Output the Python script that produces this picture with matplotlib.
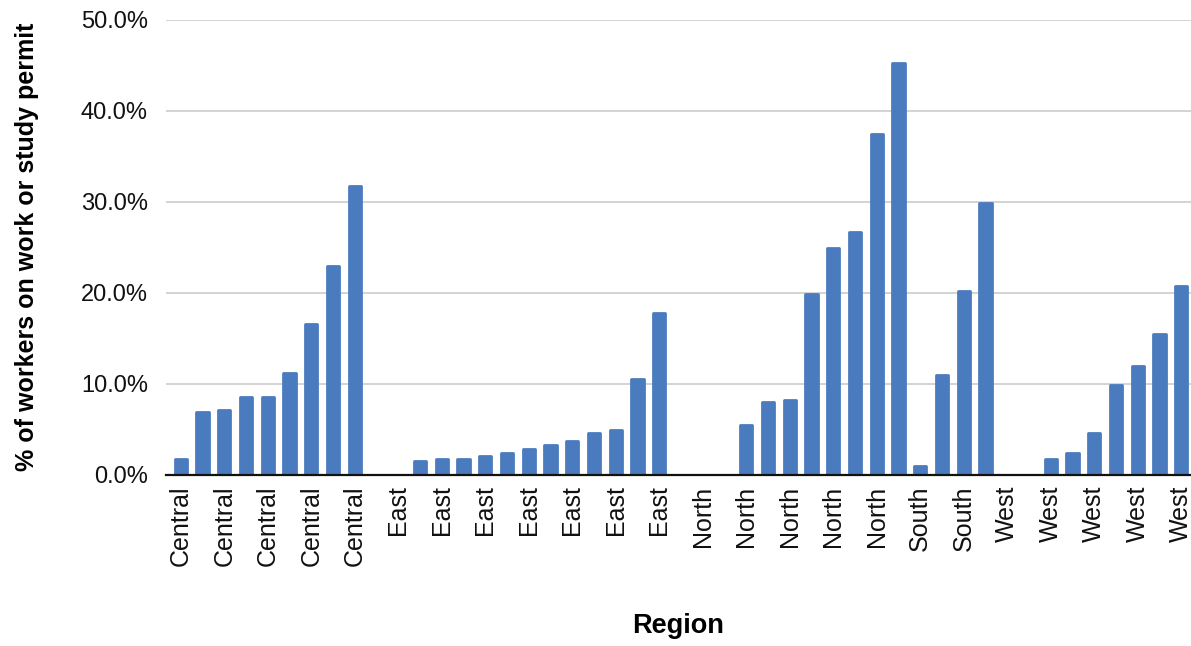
import numpy as np
import matplotlib
matplotlib.use("Agg")
import matplotlib.pyplot as plt
from matplotlib.ticker import PercentFormatter


# dados (% de trabalhadores com permissao de trabalho/estudo)
central = [1.7, 6.9, 7.1, 8.5, 8.5, 11.2, 16.6, 22.9, 31.7]
east = [0, 0, 1.5, 1.7, 1.7, 2.0, 2.4, 2.8, 3.3, 3.7, 4.6, 4.9, 10.5, 17.8]
north = [0, 0, 0, 5.5, 8.0, 8.2, 19.9, 24.9, 26.7, 37.5, 45.3]
south = [0.9, 10.9, 20.2, 29.9]
west = [0, 0, 1.7, 2.4, 4.6, 9.8, 11.9, 15.5, 20.7]

regioes = (["Central"] * len(central) + ["East"] * len(east) +
           ["North"] * len(north) + ["South"] * len(south) +
           ["West"] * len(west))
valores = central + east + north + south + west

y_ticks = [0, 10, 20, 30, 40, 50]

BAR_COLOR = "#4a7bbf"

plt.rcParams["font.family"] = ["Liberation Sans", "DejaVu Sans"]

fig = plt.figure(figsize=(11.91, 6.46), dpi=100)
ax = fig.add_axes([166 / 1191, 171.5 / 646, 1 - 166 / 1191, 454.5 / 646])

x = np.arange(len(valores))
valores = np.array(valores)

# barras com cantos arredondados (borda com juncao redonda)
nz = valores > 0
ax.bar(x[nz], valores[nz], width=0.56, color=BAR_COLOR,
       edgecolor=BAR_COLOR, linewidth=2.0, joinstyle="round", zorder=2)
ax.bar(x[~nz], valores[~nz], width=0.56, color=BAR_COLOR, linewidth=0, zorder=2)

ax.set_xlim(-0.68, len(valores) - 1 + 0.45)
ax.set_ylim(0, 50)
ax.set_yticks(y_ticks)
ax.yaxis.set_major_formatter(PercentFormatter(xmax=100, decimals=1))

# rotulos apenas a cada duas categorias
ax.set_xticks(x[::2])
ax.set_xticklabels(regioes[::2], rotation=90, va="top", ha="center")

ax.grid(True, axis="y", color="#cccccc", linewidth=1.2, zorder=0)
ax.set_axisbelow(True)

for s in ["top", "right", "left"]:
    ax.spines[s].set_visible(False)
ax.spines["bottom"].set_color("#111111")
ax.spines["bottom"].set_linewidth(1.6)
ax.spines["bottom"].set_zorder(3)

ax.tick_params(axis="both", length=0, colors="#111111")
ax.tick_params(axis="y", pad=13, labelsize=17)
ax.tick_params(axis="x", pad=8, labelsize=18)

ax.set_xlabel("Region", fontsize=19.5, fontweight="bold", labelpad=34)
ax.set_ylabel("% of workers on work or study permit", fontsize=18,
              fontweight="bold", labelpad=30)

fig.savefig("out.png", dpi=100)
